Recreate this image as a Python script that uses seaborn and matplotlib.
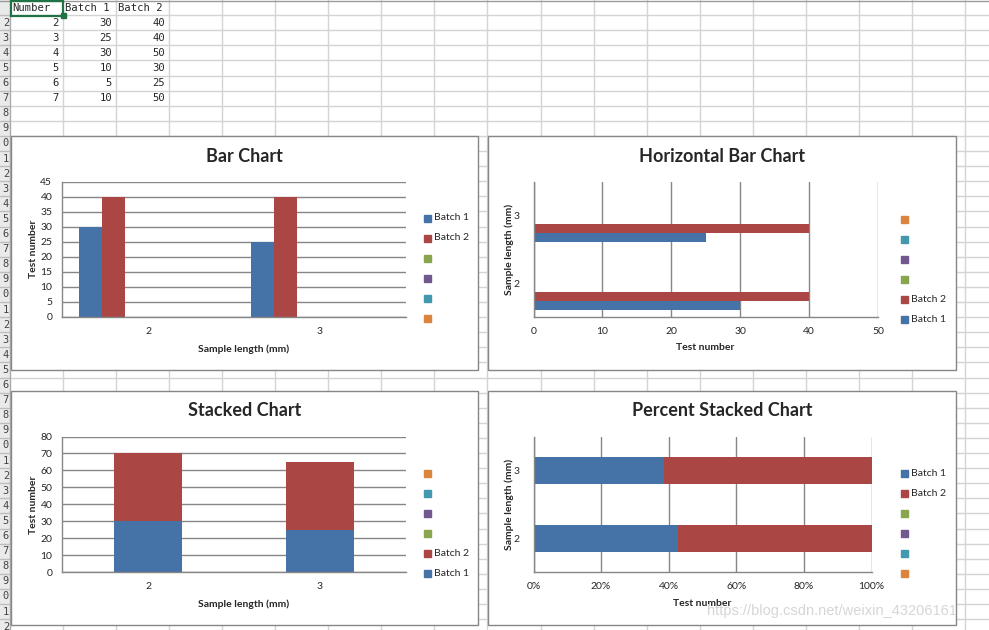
import numpy as np
import pandas as pd
import matplotlib
matplotlib.use("Agg")
import matplotlib.pyplot as plt
from matplotlib.patches import Rectangle
from matplotlib.ticker import PercentFormatter
import seaborn as sns

# sheet data
numbers = [2, 3, 4, 5, 6, 7]
batch1 = [30, 25, 30, 10, 5, 10]
batch2 = [40, 40, 50, 30, 25, 50]

# the charts only use the first two rows of the sheet
chart_cats = ["2", "3"]
chart_b1 = batch1[:2]
chart_b2 = batch2[:2]

series = ["Batch 1", "Batch 2", "s3", "s4", "s5", "s6"]
legend_labels = ["Batch 1", "Batch 2", "", "", "", ""]
colors = ["#4572A7", "#AA4643", "#89A54E", "#71588F", "#4198AF", "#DB843D"]

W, H = 989, 630
row_h = 15.1
col_w = 53.05
axis_col = "#868686"

sns.set_style("white")
plt.rcParams["font.family"] = ["Lato", "DejaVu Sans"]

fig = plt.figure(figsize=(W / 100, H / 100), dpi=100)
bg = fig.add_axes([0, 0, 1, 1])
bg.set_xlim(0, W)
bg.set_ylim(H, 0)
bg.axis("off")

# spreadsheet grid
for k in range(1, 43):
    bg.axhline(k * row_h, color="#D4D4D4", lw=1, zorder=0)
bg.add_patch(Rectangle((0, 0), 10, H, facecolor="#EAEAEA", edgecolor="none", zorder=0.5))
for k in range(1, 43):
    bg.plot([0, 10], [k * row_h, k * row_h], color="#BDBDBD", lw=1, zorder=0.6)
for k in range(1, 19):
    bg.axvline(10 + k * col_w, color="#D4D4D4", lw=1, zorder=0)
bg.axvline(10, color="#ABABAB", lw=1, zorder=1)
bg.axhline(0.5, color="#9B9B9B", lw=1, zorder=1)
# row header, only the last digit shows in the narrow strip
for k in range(2, 43):
    bg.text(9, (k - 0.5) * row_h, str(k)[-1], ha="right", va="center", fontsize=7.5,
            family="DejaVu Sans Mono", color="#444444", zorder=1)

# table cells
mono = "DejaVu Sans Mono"
heads = ["Number", "Batch 1", "Batch 2"]
for j, h in enumerate(heads):
    bg.text(12 + j * col_w, 0.5 * row_h, h, ha="left", va="center", fontsize=7.6, family=mono, zorder=1)
for i in range(len(numbers)):
    y = (i + 1.5) * row_h
    for j, v in enumerate([numbers[i], batch1[i], batch2[i]]):
        bg.text(10 + (j + 1) * col_w - 4, y, str(v), ha="right", va="center", fontsize=7.6,
                family=mono, zorder=1)
bg.add_patch(Rectangle((10.5, 0.5), col_w - 0.5, row_h, fill=False, edgecolor="#217346", lw=1.6, zorder=2))
bg.add_patch(Rectangle((10 + col_w - 2.5, row_h - 2.5), 5, 5, color="#217346", zorder=2))

# chart panels
panels = [(10.5, 135.5), (488, 135.5), (10.5, 390.5), (488, 390.5)]
titles = ["Bar Chart", "Horizontal Bar Chart", "Stacked Chart", "Percent Stacked Chart"]
for (px, py), t in zip(panels, titles):
    bg.add_patch(Rectangle((px, py), 467.5, 234, facecolor="white", edgecolor=axis_col, lw=1, zorder=2))
    bg.text(px + 234, py + 20.5, t, ha="center", va="center", fontsize=13, fontweight="bold", zorder=3)


def px_axes(x0, y0, x1, y1):
    return fig.add_axes([x0 / W, 1 - y1 / H, (x1 - x0) / W, (y1 - y0) / H])


def style(ax, grid_axis):
    ax.set_facecolor("none")
    for s in ["top", "right"]:
        ax.spines[s].set_visible(False)
    for s in ["left", "bottom"]:
        ax.spines[s].set_color(axis_col)
        ax.spines[s].set_linewidth(1)
    ax.grid(axis=grid_axis, color=axis_col, lw=1)
    ax.set_axisbelow(True)
    ax.tick_params(length=0, labelsize=7.5, pad=7)
    ax.set_xlabel("")
    ax.set_ylabel("")


def legend(x, y0, order):
    for i, idx in enumerate(order):
        y = y0 + i * 20
        bg.add_patch(Rectangle((x, y - 3.5), 7, 7, color=colors[idx], zorder=3))
        if legend_labels[idx]:
            bg.text(x + 10, y, legend_labels[idx], ha="left", va="center", fontsize=7.5, zorder=3)


def label(x, y, text, rot=0):
    bg.text(x, y, text, ha="center", va="center", fontsize=7.5, fontweight="bold", rotation=rot, zorder=3)


bar_df = pd.DataFrame({
    "Number": chart_cats * 2,
    "Series": ["Batch 1"] * 2 + ["Batch 2"] * 2,
    "Value": chart_b1 + chart_b2,
})
common = dict(saturation=1, linewidth=0, errorbar=None)

# Bar Chart
ax1 = px_axes(62, 181.5, 406, 317)
sns.barplot(data=bar_df, x="Number", y="Value", hue="Series", hue_order=series, order=chart_cats,
            palette=colors, width=0.8, legend=False, ax=ax1, **common)
ax1.set_ylim(0, 45)
ax1.set_yticks(range(0, 46, 5))
style(ax1, "y")
legend(424, 218, [0, 1, 2, 3, 4, 5])
label(33, 249, "Test number", 90)
label(244, 349, "Sample length (mm)")

# Horizontal Bar Chart
ax2 = px_axes(533.5, 181.5, 878, 317)
sns.barplot(data=bar_df, x="Value", y="Number", hue="Series", hue_order=series[::-1],
            order=chart_cats[::-1], palette=colors[::-1], orient="h", width=0.8, legend=False,
            ax=ax2, **common)
ax2.set_xlim(0, 50)
ax2.set_xticks(range(0, 51, 10))
style(ax2, "x")
ax2.tick_params(axis="y", pad=10)
legend(901, 219, [5, 4, 3, 2, 1, 0])
label(509, 249, "Sample length (mm)", 90)
label(705, 348, "Test number")

# Stacked Chart
totals = [a + b for a, b in zip(chart_b1, chart_b2)]
ax3 = px_axes(62, 436.5, 406, 572)
sns.barplot(x=chart_cats, y=totals, order=chart_cats, color=colors[1], width=0.4, ax=ax3, **common)
sns.barplot(x=chart_cats, y=chart_b1, order=chart_cats, color=colors[0], width=0.4, ax=ax3, **common)
ax3.set_ylim(0, 80)
ax3.set_yticks(range(0, 81, 10))
style(ax3, "y")
legend(424, 473.7, [5, 4, 3, 2, 1, 0])
label(33, 505, "Test number", 90)
label(244, 604, "Sample length (mm)")

# Percent Stacked Chart
share_b1 = [a / t for a, t in zip(chart_b1, totals)]
share_all = [(a + b) / t for a, b, t in zip(chart_b1, chart_b2, totals)]
ax4 = px_axes(533.5, 436.5, 871.5, 572)
sns.barplot(x=share_all, y=chart_cats, order=chart_cats[::-1], orient="h", color=colors[1],
            width=0.4, ax=ax4, **common)
sns.barplot(x=share_b1, y=chart_cats, order=chart_cats[::-1], orient="h", color=colors[0],
            width=0.4, ax=ax4, **common)
ax4.set_xlim(0, 1)
ax4.set_xticks(np.arange(0, 1.01, 0.2))
ax4.xaxis.set_major_formatter(PercentFormatter(1.0, decimals=0))
style(ax4, "x")
ax4.tick_params(axis="y", pad=10)
legend(901, 473.7, [0, 1, 2, 3, 4, 5])
label(509, 504, "Sample length (mm)", 90)
label(702, 604, "Test number")

fig.text(707 / W, 1 - 611 / H, "https://blog.csdn.net/weixin_43206161", ha="left", va="center",
         fontsize=10.5, family="Liberation Sans", color="#D6D6D6", zorder=10)

fig.savefig("out.png", dpi=100)
